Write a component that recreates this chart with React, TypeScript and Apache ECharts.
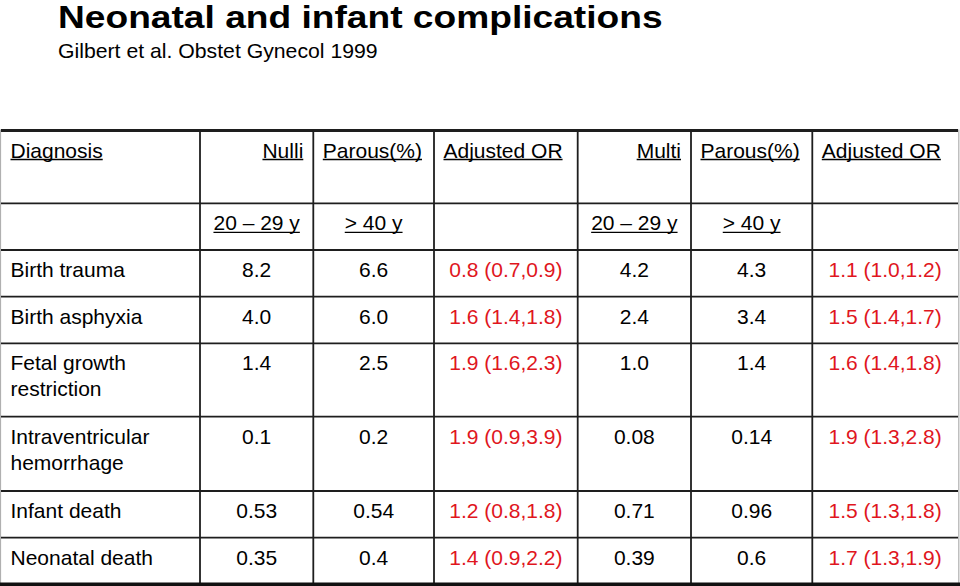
import React, { useEffect, useRef } from "react";
import * as echarts from "echarts";

// ---------- data ----------
const TITLE = "Neonatal and infant complications";
const SUBTITLE = "Gilbert et al. Obstet Gynecol 1999";
const headerLabels = ["Diagnosis", "Nulli", "Parous(%)", "Adjusted OR", "Multi", "Parous(%)", "Adjusted OR"];
const ageLabels = ["", "20 – 29 y", "> 40 y", "", "20 – 29 y", "> 40 y", ""];
const diagnoses = [
  ["Birth trauma"],
  ["Birth asphyxia"],
  ["Fetal growth", "restriction"],
  ["Intraventricular", "hemorrhage"],
  ["Infant death"],
  ["Neonatal death"],
];
const nulli2029 = ["8.2", "4.0", "1.4", "0.1", "0.53", "0.35"];
const nulliOver40 = ["6.6", "6.0", "2.5", "0.2", "0.54", "0.4"];
const nulliOR = [0.8, 1.6, 1.9, 1.9, 1.2, 1.4];
const nulliLo = [0.7, 1.4, 1.6, 0.9, 0.8, 0.9];
const nulliHi = [0.9, 1.8, 2.3, 3.9, 1.8, 2.2];
const multi2029 = ["4.2", "2.4", "1.0", "0.08", "0.71", "0.39"];
const multiOver40 = ["4.3", "3.4", "1.4", "0.14", "0.96", "0.6"];
const multiOR = [1.1, 1.5, 1.6, 1.9, 1.5, 1.7];
const multiLo = [1.0, 1.4, 1.4, 1.3, 1.3, 1.3];
const multiHi = [1.2, 1.7, 1.8, 2.8, 1.8, 1.9];

// ---------- layout ----------
const FONT = "'Liberation Sans', Arial, Helvetica, sans-serif";
const COLS = [1, 200, 313.3, 434, 577.7, 691, 812.3, 958];
const ROWS = [130.5, 203.3, 250, 296.7, 343.3, 416.7, 491, 537.7, 584];
const HEADER_ALIGN = ["left", "right", "left", "left", "right", "left", "left"];
const FS = 21;
const LINE_GAP = 26;
const RED = "#e0161e";
const INK = "#000000";
const RULE = "#1e1e1e";

function measure(text: string, font: string): number {
  const ctx = document.createElement("canvas").getContext("2d");
  if (!ctx) return text.length * 10;
  ctx.font = font;
  return ctx.measureText(text).width;
}

const fmtOR = (o: number, l: number, h: number) =>
  `${o.toFixed(1)} (${l.toFixed(1)},${h.toFixed(1)})`;

function buildElements() {
  const els: any[] = [];
  const txt = (
    text: string,
    x: number,
    y: number,
    align: string,
    opts: any = {}
  ) => {
    els.push({
      type: "text",
      x,
      y,
      scaleX: opts.scaleX ?? 1,
      silent: true,
      style: {
        text,
        x: 0,
        y: 0,
        fill: opts.fill ?? INK,
        fontSize: opts.fontSize ?? FS,
        fontWeight: opts.fontWeight ?? "normal",
        fontFamily: FONT,
        align,
        verticalAlign: "middle",
        textAlign: align,
        textVerticalAlign: "middle",
      },
    });
  };
  const line = (x1: number, y1: number, x2: number, y2: number, w: number, c = RULE) => {
    els.push({
      type: "line",
      silent: true,
      shape: { x1, y1, x2, y2 },
      style: { stroke: c, lineWidth: w },
    });
  };
  const underline = (text: string, x: number, y: number, align: string) => {
    const w = measure(text, `${FS}px ${FONT}`);
    let x1 = x;
    if (align === "right") x1 = x - w;
    else if (align === "center") x1 = x - w / 2;
    line(x1, y + 9.5, x1 + w, y + 9.5, 1.3, INK);
  };

  // title & subtitle
  const titleFont = `bold 32px ${FONT}`;
  const tw = measure(TITLE, titleFont);
  txt(TITLE, 58, 16.5, "left", { fontSize: 32, fontWeight: "bold", scaleX: 605 / tw });
  const sw = measure(SUBTITLE, `20px ${FONT}`);
  txt(SUBTITLE, 58, 50.3, "left", { fontSize: 20, scaleX: 320 / sw });

  // background cell area
  const colX = (c: number, align: string) => {
    if (align === "left") return COLS[c] + 9.5;
    if (align === "right") return COLS[c + 1] - 10;
    return (COLS[c] + COLS[c + 1]) / 2;
  };
  const capY = (r: number) => ROWS[r] + 19.5;

  // header row
  headerLabels.forEach((t, c) => {
    const a = HEADER_ALIGN[c];
    const x = colX(c, a);
    txt(t, x, capY(0), a);
    underline(t, x, capY(0), a);
  });
  // age row
  ageLabels.forEach((t, c) => {
    if (!t) return;
    const x = colX(c, "center");
    txt(t, x, capY(1), "center");
    underline(t, x, capY(1), "center");
  });
  // data rows
  diagnoses.forEach((lines, i) => {
    const r = i + 2;
    const y = capY(r);
    lines.forEach((t, k) => txt(t, colX(0, "left"), y + k * LINE_GAP, "left"));
    txt(nulli2029[i], colX(1, "center"), y, "center");
    txt(nulliOver40[i], colX(2, "center"), y, "center");
    txt(fmtOR(nulliOR[i], nulliLo[i], nulliHi[i]), colX(3, "center"), y, "center", { fill: RED });
    txt(multi2029[i], colX(4, "center"), y, "center");
    txt(multiOver40[i], colX(5, "center"), y, "center");
    txt(fmtOR(multiOR[i], multiLo[i], multiHi[i]), colX(6, "center"), y, "center", { fill: RED });
  });

  // rules
  const top = ROWS[0];
  const bottom = ROWS[ROWS.length - 1];
  line(0.5, top - 1, 0.5, bottom, 1.2, "#b0b0b0");
  line(958.8, top - 1, 958.8, bottom, 1.2, "#b0b0b0");
  for (let r = 1; r < ROWS.length - 1; r++) line(COLS[0], ROWS[r], COLS[COLS.length - 1], ROWS[r], 1.8);
  for (let c = 1; c < COLS.length - 1; c++) line(COLS[c], top, COLS[c], bottom, 1.8);
  line(COLS[0], top, COLS[COLS.length - 1], top, 3);
  line(0, bottom + 0.5, 960, bottom + 0.5, 4, "#111111");
  return els;
}

export default function App() {
  const ref = useRef<HTMLDivElement>(null);
  useEffect(() => {
    if (!ref.current) return;
    const chart = echarts.init(ref.current, null, { renderer: "svg" });
    chart.setOption({
      animation: false,
      backgroundColor: "#ffffff",
      graphic: { elements: buildElements() },
    });
    return () => chart.dispose();
  }, []);
  return (
    <div
      ref={ref}
      style={{ position: "fixed", left: 0, top: 0, width: 960, height: 586, background: "#fff" }}
    />
  );
}
